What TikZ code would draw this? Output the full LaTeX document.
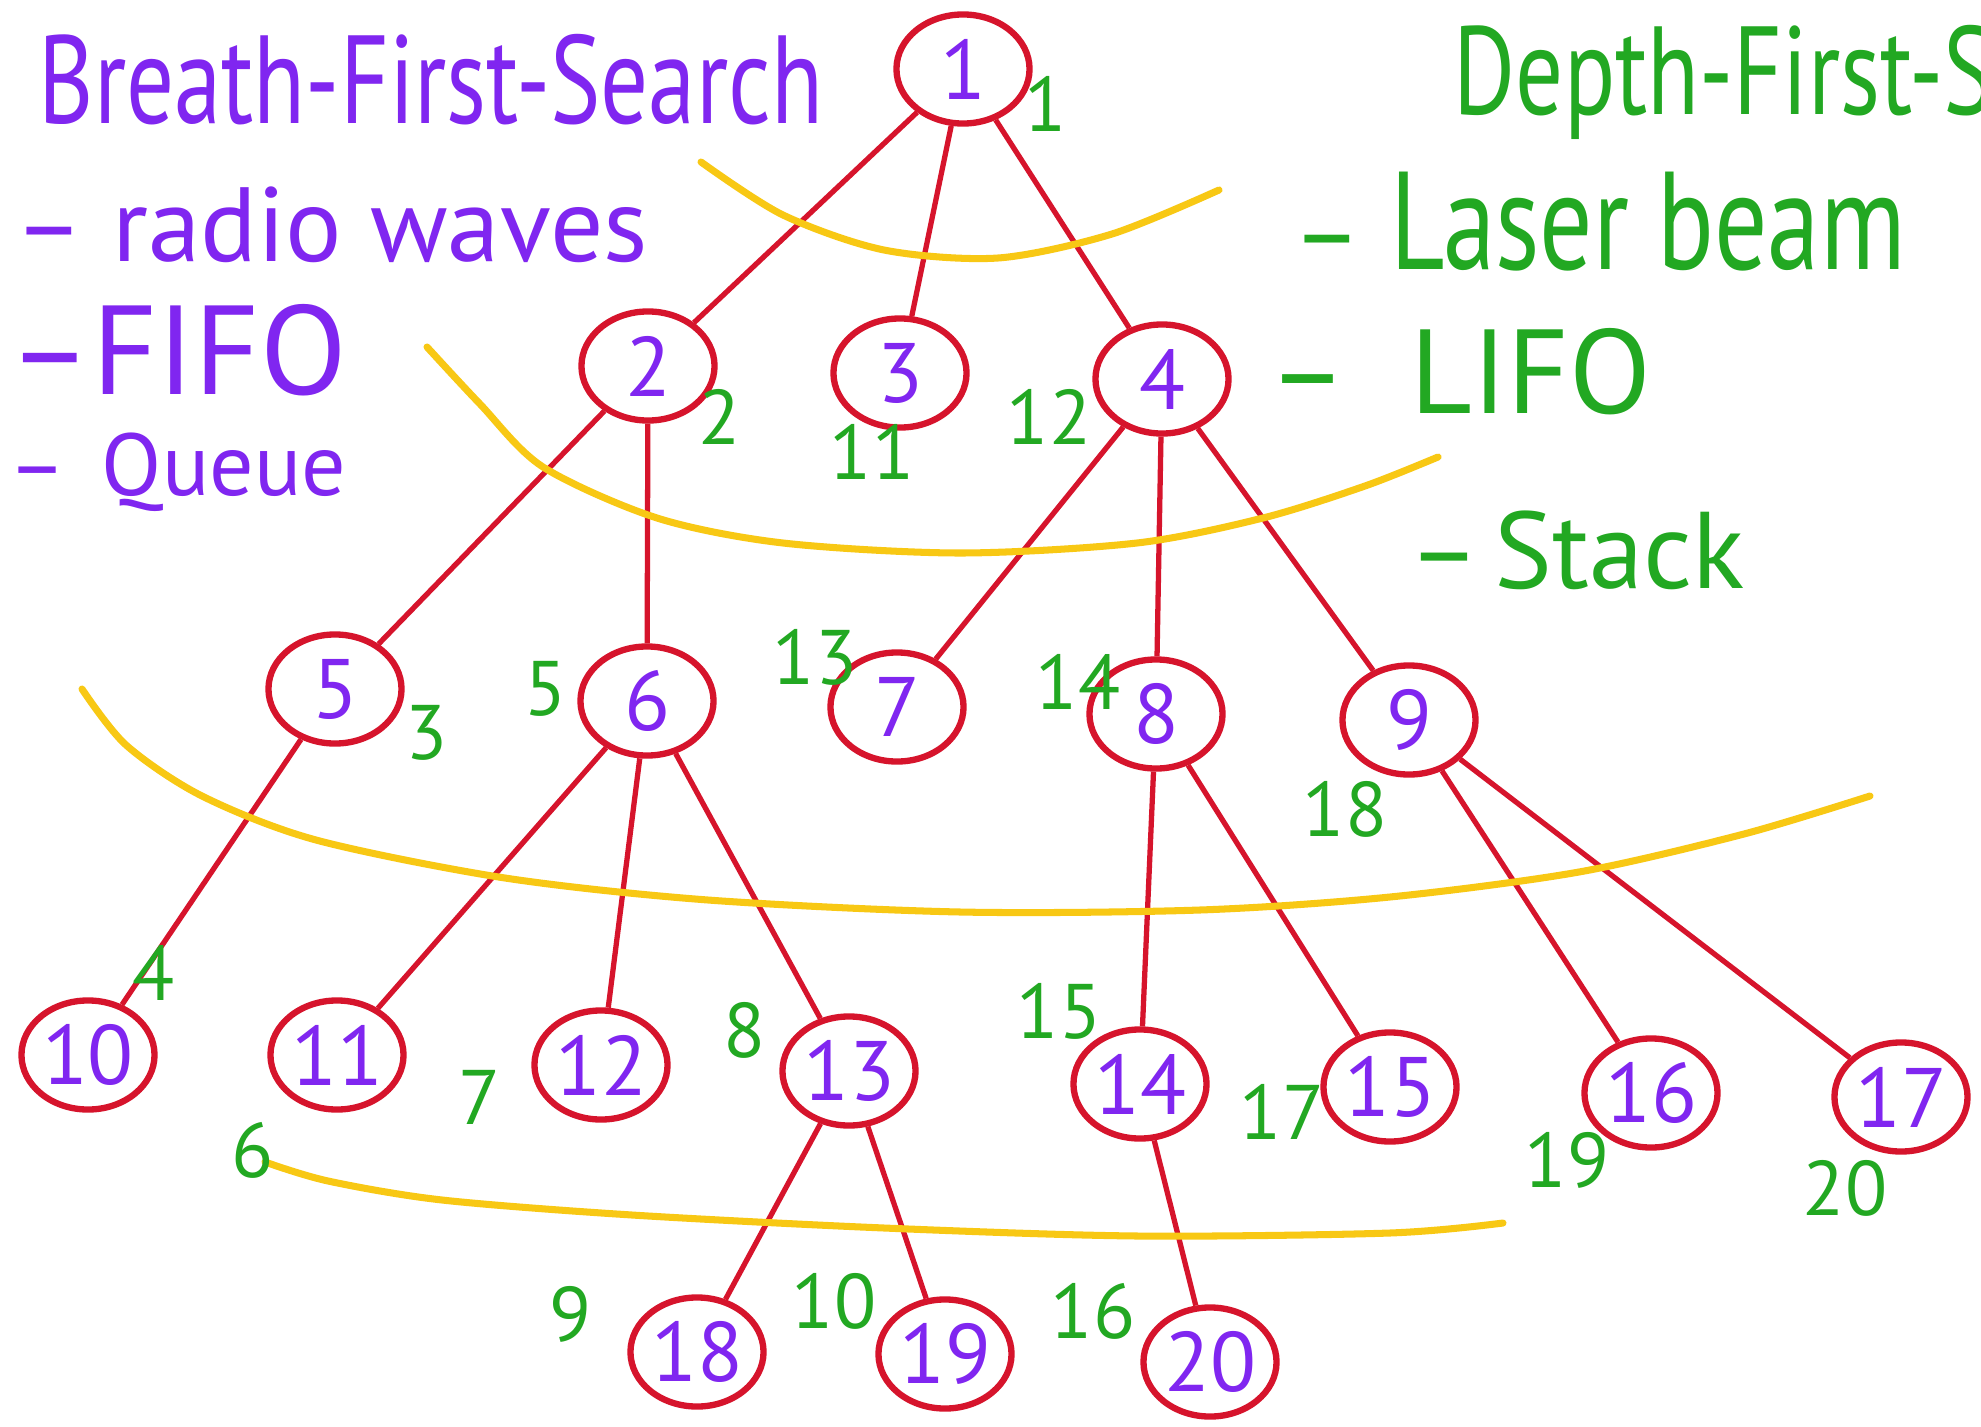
\documentclass[tikz,border=0pt]{standalone}
\usepackage{fontspec}
\usepackage{graphicx}
\setmainfont{PT Sans}
\usetikzlibrary{shapes.geometric}
\definecolor{treered}{RGB}{214,20,44}
\definecolor{bfsviolet}{RGB}{128,38,240}
\definecolor{dfsgreen}{RGB}{34,168,34}
\definecolor{levelyellow}{RGB}{248,200,20}
\newcommand\tallword[1]{\scalebox{1}[1.32]{#1}}
\tikzset{
  vertex/.style={draw=treered, line width=1.8pt, ellipse, minimum width=1.33cm,
    minimum height=1.09cm, inner sep=0pt, text=bfsviolet, font=\fontsize{24}{24}\selectfont},
  edge/.style={treered, line width=1.5pt},
  level/.style={levelyellow, line width=2pt, line cap=round},
  order/.style={text=dfsgreen, inner sep=0pt, font=\fontsize{22}{22}\selectfont},
  bfsnote/.style={text=bfsviolet, anchor=west, inner sep=0pt},
  dfsnote/.style={text=dfsgreen, anchor=west, inner sep=0pt}
}
\begin{document}
\begin{tikzpicture}[x=0.01cm, y=-0.01cm]
      \useasboundingbox[fill=white] (0, 0) rectangle (1981, 1427);
      \node[vertex] (n1) at (963, 69) {1};
      \node[vertex] (n2) at (648, 366) {2};
      \node[vertex] (n3) at (900, 373) {3};
      \node[vertex] (n4) at (1162, 379) {4};
      \node[vertex] (n5) at (335, 689) {5};
      \node[vertex] (n6) at (647, 701) {6};
      \node[vertex] (n7) at (897, 707) {7};
      \node[vertex] (n8) at (1156, 714) {8};
      \node[vertex] (n9) at (1409, 720) {9};
      \node[vertex] (n10) at (88, 1055) {10};
      \node[vertex] (n11) at (337, 1055) {11};
      \node[vertex] (n12) at (601, 1065) {12};
      \node[vertex] (n13) at (849, 1071) {13};
      \node[vertex] (n14) at (1140, 1084) {14};
      \node[vertex] (n15) at (1390, 1087) {15};
      \node[vertex] (n16) at (1651, 1093) {16};
      \node[vertex] (n17) at (1901, 1097) {17};
      \node[vertex] (n18) at (697, 1352) {18};
      \node[vertex] (n19) at (945, 1354) {19};
      \node[vertex] (n20) at (1210, 1362) {20};
      \draw[edge] (n1)--(n2);
      \draw[edge] (n1)--(n3);
      \draw[edge] (n1)--(n4);
      \draw[edge] (n2)--(n5);
      \draw[edge] (n2)--(n6);
      \draw[edge] (n4)--(n7);
      \draw[edge] (n4)--(n8);
      \draw[edge] (n4)--(n9);
      \draw[edge] (n5)--(n10);
      \draw[edge] (n6)--(n11);
      \draw[edge] (n6)--(n12);
      \draw[edge] (n6)--(n13);
      \draw[edge] (n8)--(n14);
      \draw[edge] (n8)--(n15);
      \draw[edge] (n9)--(n16);
      \draw[edge] (n9)--(n17);
      \draw[edge] (n13)--(n18);
      \draw[edge] (n13)--(n19);
      \draw[edge] (n14)--(n20);
      \draw[level] plot[smooth] coordinates {(701, 162) (783, 215) (884, 250) (998, 258) (1112, 234) (1219, 190)};
      \draw[level] plot[smooth] coordinates {(427, 347) (480, 404) (543, 467) (657, 518) (783, 543) (960, 553) (1137, 543) (1263, 518) (1365, 486) (1438, 457)};
      \draw[level] plot[smooth] coordinates {(82, 689) (126, 745) (202, 796) (316, 840) (505, 878) (708, 900) (960, 912) (1200, 910) (1390, 897) (1579, 872) (1744, 834) (1870, 796)};
      \draw[level] plot[smooth] coordinates {(265, 1162) (328, 1181) (442, 1200) (632, 1215) (884, 1228) (1137, 1236) (1390, 1233) (1503, 1223)};
      \node[order] (o1) at (1046, 104) {1};
      \node[order] (o2) at (720, 417) {2};
      \node[order] (o3) at (427, 733) {3};
      \node[order] (o4) at (154, 973) {4};
      \node[order] (o5) at (546, 689) {5};
      \node[order] (o6) at (253, 1150) {6};
      \node[order] (o7) at (480, 1097) {7};
      \node[order] (o8) at (745, 1030) {8};
      \node[order] (o9) at (571, 1314) {9};
      \node[order] (o10) at (834, 1301) {10};
      \node[order] (o11) at (872, 452) {11};
      \node[order] (o12) at (1049, 417) {12};
      \node[order] (o13) at (815, 657) {13};
      \node[order] (o14) at (1078, 682) {14};
      \node[order] (o15) at (1059, 1011) {15};
      \node[order] (o16) at (1093, 1311) {16};
      \node[order] (o17) at (1282, 1112) {17};
      \node[order] (o18) at (1345, 809) {18};
      \node[order] (o19) at (1567, 1160) {19};
      \node[order] (o20) at (1845, 1188) {20};
      \node[bfsnote, font=\fontsize{27}{27}\selectfont] (bfs) at (38, 80) {\tallword{Breath-First-Search}};
      \node[bfsnote, font=\fontsize{30}{30}\selectfont] (waves) at (14, 225) {--\ radio waves};
      \node[bfsnote, font=\fontsize{36}{36}\selectfont] (fifo) at (8, 350) {--FIFO};
      \node[bfsnote, font=\fontsize{25}{25}\selectfont] (queue) at (8, 472) {--\hspace{10pt}Queue};
      \node[dfsnote, font=\fontsize{27}{27}\selectfont] (dfs) at (1453, 82) {\tallword{Depth-First-Search}};
      \node[dfsnote, font=\fontsize{30}{30}\selectfont] (laser) at (1292, 222) {--\ \tallword{Laser beam}};
      \node[dfsnote, font=\fontsize{34}{34}\selectfont] (lifo) at (1268, 372) {--\hspace{18pt}LIFO};
      \node[dfsnote, font=\fontsize{31}{31}\selectfont] (stack) at (1408, 550) {--\hspace{4pt}Stack};
\end{tikzpicture}
\end{document}
